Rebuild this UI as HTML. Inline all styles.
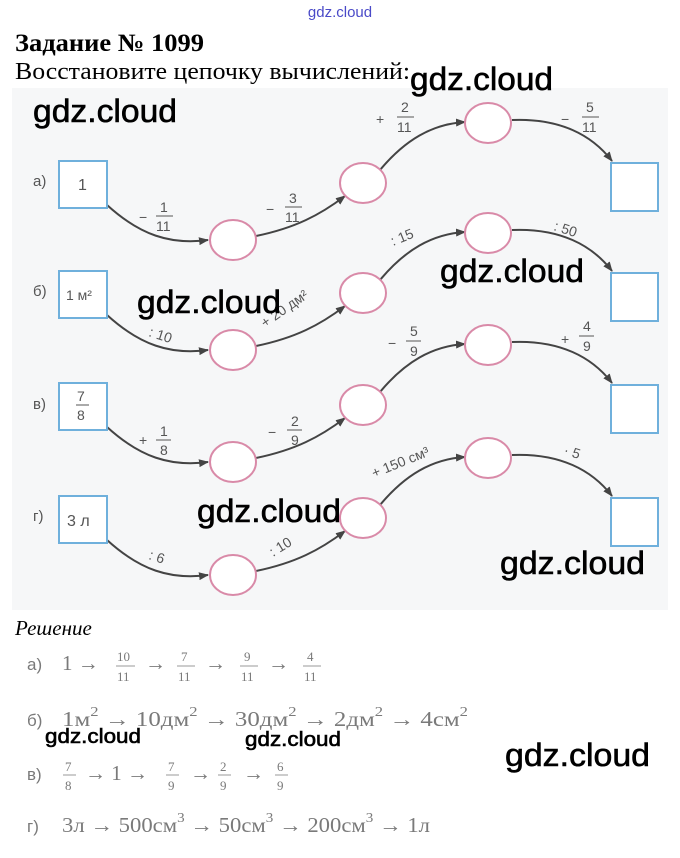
<!DOCTYPE html>
<html><head><meta charset="utf-8"><style>
body{margin:0;background:#fff;width:680px;height:858px;overflow:hidden}
svg{display:block}
.wm{font-family:"Liberation Sans",sans-serif;fill:#000;stroke:#000;stroke-width:0.6}
.lb{font-family:"Liberation Sans",sans-serif;font-size:15px;fill:#555}
.sm{font-family:"Liberation Sans",sans-serif;font-size:14px;fill:#555}
.sol{font-family:"Liberation Serif","DejaVu Serif",serif;fill:#7a7a7a}
</style></head><body>
<svg width="680" height="858" viewBox="0 0 680 858" xmlns="http://www.w3.org/2000/svg">
<defs>
<marker id="ar" markerWidth="10" markerHeight="8" refX="9" refY="4" orient="auto" markerUnits="userSpaceOnUse"><path d="M0,0 L10,4 L0,8 Z" fill="#444"/></marker>
<g id="row">
<path d="M107,205 C140,235 170,245 208,240" fill="none" stroke="#444" stroke-width="2" marker-end="url(#ar)"/>
<path d="M256,236 C295,228 320,215 345,196" fill="none" stroke="#444" stroke-width="2" marker-end="url(#ar)"/>
<path d="M380,170 C405,140 432,124 465,122" fill="none" stroke="#444" stroke-width="2" marker-end="url(#ar)"/>
<path d="M512,120 C560,118 592,135 612,161" fill="none" stroke="#444" stroke-width="2" marker-end="url(#ar)"/>
<rect x="59" y="161" width="48" height="47" fill="#fff" stroke="#6fb0dc" stroke-width="2"/>
<ellipse cx="233" cy="240" rx="23" ry="20" fill="#fff" stroke="#d98aa8" stroke-width="2"/>
<ellipse cx="363" cy="183" rx="23" ry="20" fill="#fff" stroke="#d98aa8" stroke-width="2"/>
<ellipse cx="488" cy="123" rx="23" ry="20" fill="#fff" stroke="#d98aa8" stroke-width="2"/>
<rect x="611" y="163" width="47" height="48" fill="#fff" stroke="#6fb0dc" stroke-width="2"/>
</g>
</defs>
<rect x="0" y="0" width="680" height="858" fill="#fff"/>
<rect x="12" y="88" width="656" height="522" fill="#f6f7f8"/>
<text x="340" y="17" text-anchor="middle" font-family="Liberation Sans,sans-serif" font-size="15" fill="#4a4ac8">gdz.cloud</text>
<text x="15" y="51" font-family="Liberation Serif,serif" font-weight="bold" font-size="25" textLength="189" lengthAdjust="spacingAndGlyphs">Задание № 1099</text>
<text x="15" y="79" font-family="Liberation Serif,serif" font-size="24" textLength="395" lengthAdjust="spacingAndGlyphs">Восстановите цепочку вычислений:</text>

<use href="#row"/>
<use href="#row" y="110"/>
<use href="#row" y="222"/>
<use href="#row" y="335"/>

<g class="lb">
<text x="33" y="186">а)</text><text x="33" y="296">б)</text><text x="33" y="409">в)</text><text x="33" y="521">г)</text>
<text x="78" y="190" font-size="16">1</text>
<text x="66" y="300" font-size="14">1 м²</text>
<text x="77" y="401" font-size="14">7</text><line x1="76" y1="405" x2="89" y2="405" stroke="#555"/><text x="77" y="420" font-size="14">8</text>
<text x="67" y="526" font-size="16">3 л</text>
</g>
<g class="sm">
<text x="139" y="222">−</text><text x="160" y="212">1</text><line x1="156" y1="216" x2="173" y2="216" stroke="#555"/><text x="156" y="231">11</text>
<text x="266" y="214">−</text><text x="289" y="203">3</text><line x1="285" y1="207" x2="302" y2="207" stroke="#555"/><text x="285" y="222">11</text>
<text x="376" y="124">+</text><text x="401" y="112">2</text><line x1="397" y1="117" x2="414" y2="117" stroke="#555"/><text x="397" y="132">11</text>
<text x="561" y="124">−</text><text x="586" y="112">5</text><line x1="582" y1="117" x2="599" y2="117" stroke="#555"/><text x="582" y="132">11</text>
<text x="148" y="336" transform="rotate(18 148 336)">: 10</text>
<text x="265" y="328" transform="rotate(-35 265 328)">+ 20 дм²</text>
<text x="393" y="246" transform="rotate(-22 393 246)">: 15</text>
<text x="553" y="230" transform="rotate(18 553 230)">: 50</text>
<text x="139" y="445">+</text><text x="160" y="436">1</text><line x1="156" y1="440" x2="171" y2="440" stroke="#555"/><text x="160" y="455">8</text>
<text x="268" y="437">−</text><text x="291" y="426">2</text><line x1="287" y1="430" x2="302" y2="430" stroke="#555"/><text x="291" y="445">9</text>
<text x="388" y="348">−</text><text x="410" y="336">5</text><line x1="406" y1="341" x2="421" y2="341" stroke="#555"/><text x="410" y="356">9</text>
<text x="561" y="344">+</text><text x="583" y="331">4</text><line x1="579" y1="336" x2="594" y2="336" stroke="#555"/><text x="583" y="351">9</text>
<text x="148" y="559" transform="rotate(18 148 559)">: 6</text>
<text x="273" y="557" transform="rotate(-32 273 557)">: 10</text>
<text x="374" y="478" transform="rotate(-22 374 478)">+ 150 см³</text>
<text x="563" y="454" transform="rotate(18 563 454)">· 5</text>
</g>

<text x="15" y="635" font-family="Liberation Serif,serif" font-style="italic" font-size="21">Решение</text>
<g class="sol" font-size="21">
<text x="27" y="670" font-family="Liberation Sans,sans-serif" font-size="17">а)</text>
<text x="62" y="670">1 →</text>
<text x="117" y="661" font-size="13">10</text><line x1="116" y1="666" x2="135" y2="666" stroke="#999"/><text x="117" y="681" font-size="13">11</text>
<text x="145" y="670">→</text>
<text x="181" y="661" font-size="13">7</text><line x1="177" y1="666" x2="195" y2="666" stroke="#999"/><text x="178" y="681" font-size="13">11</text>
<text x="205" y="670">→</text>
<text x="244" y="661" font-size="13">9</text><line x1="240" y1="666" x2="258" y2="666" stroke="#999"/><text x="241" y="681" font-size="13">11</text>
<text x="268" y="670">→</text>
<text x="307" y="661" font-size="13">4</text><line x1="303" y1="666" x2="321" y2="666" stroke="#999"/><text x="304" y="681" font-size="13">11</text>
<text x="27" y="726" font-family="Liberation Sans,sans-serif" font-size="17">б)</text>
<text x="62" y="726" textLength="406" lengthAdjust="spacingAndGlyphs">1м<tspan dy="-10" font-size="14">2</tspan><tspan dy="10"> → 10дм</tspan><tspan dy="-10" font-size="14">2</tspan><tspan dy="10"> → 30дм</tspan><tspan dy="-10" font-size="14">2</tspan><tspan dy="10"> → 2дм</tspan><tspan dy="-10" font-size="14">2</tspan><tspan dy="10"> → 4см</tspan><tspan dy="-10" font-size="14">2</tspan></text>
<text x="27" y="780" font-family="Liberation Sans,sans-serif" font-size="17">в)</text>
<text x="65" y="771" font-size="13">7</text><line x1="63" y1="775" x2="76" y2="775" stroke="#999"/><text x="65" y="790" font-size="13">8</text>
<text x="85" y="780">→ 1 →</text>
<text x="168" y="771" font-size="13">7</text><line x1="166" y1="775" x2="179" y2="775" stroke="#999"/><text x="168" y="790" font-size="13">9</text>
<text x="190" y="780">→</text>
<text x="220" y="771" font-size="13">2</text><line x1="218" y1="775" x2="231" y2="775" stroke="#999"/><text x="220" y="790" font-size="13">9</text>
<text x="243" y="780">→</text>
<text x="277" y="771" font-size="13">6</text><line x1="275" y1="775" x2="288" y2="775" stroke="#999"/><text x="277" y="790" font-size="13">9</text>
<text x="27" y="832" font-family="Liberation Sans,sans-serif" font-size="17">г)</text>
<text x="62" y="832" textLength="368" lengthAdjust="spacingAndGlyphs">3л → 500см<tspan dy="-10" font-size="14">3</tspan><tspan dy="10"> → 50см</tspan><tspan dy="-10" font-size="14">3</tspan><tspan dy="10"> → 200см</tspan><tspan dy="-10" font-size="14">3</tspan><tspan dy="10"> → 1л</tspan></text>
</g>

<g class="wm">
<text x="33" y="122" font-size="32" textLength="144" lengthAdjust="spacingAndGlyphs">gdz.cloud</text>
<text x="410" y="90" font-size="32" textLength="143" lengthAdjust="spacingAndGlyphs">gdz.cloud</text>
<text x="440" y="282" font-size="32" textLength="144" lengthAdjust="spacingAndGlyphs">gdz.cloud</text>
<text x="137" y="313" font-size="32" textLength="144" lengthAdjust="spacingAndGlyphs">gdz.cloud</text>
<text x="197" y="522" font-size="32" textLength="144" lengthAdjust="spacingAndGlyphs">gdz.cloud</text>
<text x="500" y="574" font-size="32" textLength="145" lengthAdjust="spacingAndGlyphs">gdz.cloud</text>
<text x="505" y="766" font-size="32" textLength="145" lengthAdjust="spacingAndGlyphs">gdz.cloud</text>
<text x="45" y="743" font-size="20" textLength="96" lengthAdjust="spacingAndGlyphs">gdz.cloud</text>
<text x="245" y="746" font-size="20" textLength="96" lengthAdjust="spacingAndGlyphs">gdz.cloud</text>
</g>
</svg>
</body></html>
